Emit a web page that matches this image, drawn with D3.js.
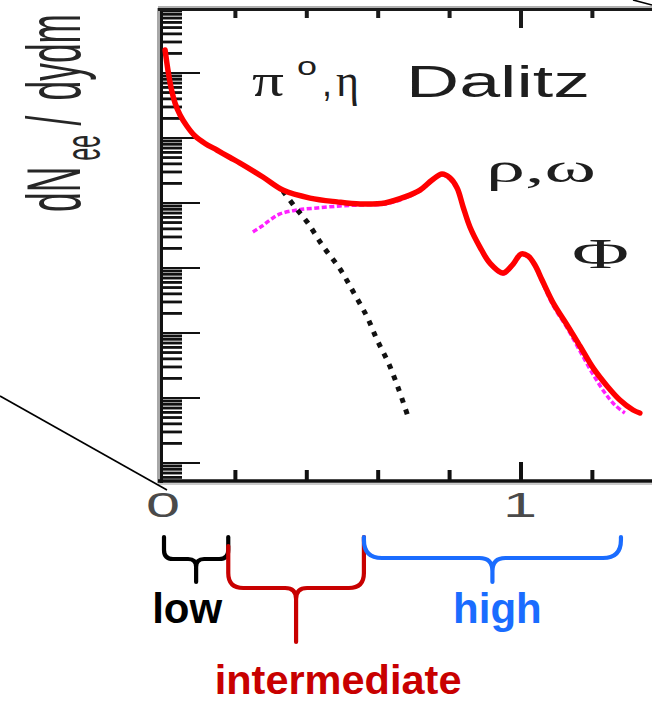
<!DOCTYPE html>
<html>
<head>
<meta charset="utf-8">
<script src="https://cdn.jsdelivr.net/npm/d3@7"></script>
<style>
  html, body { margin: 0; padding: 0; background: #fff; }
  svg { display: block; }
</style>
</head>
<body>
<svg id="chart" width="652" height="702"></svg>
<script>
// Dielectron invariant-mass spectrum, dN_ee/dydm versus m_ee (GeV/c^2)

// full spectrum (red)
const massTotal = [0.003, 0.011, 0.020, 0.031, 0.045, 0.064, 0.087, 0.115, 0.148, 0.185,
  0.213, 0.277, 0.333, 0.409, 0.485, 0.549, 0.619, 0.675, 0.717, 0.751,
  0.779, 0.801, 0.821, 0.838, 0.857, 0.885, 0.913, 0.950, 0.978, 1.000,
  1.020, 1.039, 1.059, 1.090, 1.129, 1.165, 1.202, 1.241, 1.277, 1.314, 1.333];
const yieldTotal = [0.226, 0.111, 0.0587, 0.0345, 0.0226, 0.0153, 0.0107, 0.00823, 0.00653, 0.00501,
  0.00412, 0.00251, 0.00158, 0.00119, 0.00104, 0.000966, 0.00100, 0.00124, 0.00158, 0.00226,
  0.00279, 0.00243, 0.00170, 0.000867, 0.000428, 0.000210, 0.000119, 8.38e-5, 1.15e-4, 1.64e-4,
  1.53e-4, 1.11e-4, 6.53e-5, 2.90e-5, 1.33e-5, 6.31e-6, 2.90e-6, 1.53e-6, 9.31e-7, 6.53e-7, 5.87e-7];

// vector-meson contribution (magenta)
const massVector = [0.249, 0.275, 0.297, 0.325, 0.373, 0.429, 0.493, 0.549, 0.619, 0.675,
  0.717, 0.751, 0.779, 0.801, 0.821, 0.838, 0.857, 0.885, 0.913, 0.950,
  0.978, 1.000, 1.020, 1.039, 1.059, 1.090, 1.129, 1.165, 1.202, 1.235, 1.263, 1.291];
const yieldVector = [3.58e-4, 4.43e-4, 5.47e-4, 6.78e-4, 7.80e-4, 8.38e-4, 9.0e-4, 9.31e-4, 9.66e-4, 1.19e-3,
  1.53e-3, 2.18e-3, 2.70e-3, 2.34e-3, 1.64e-3, 8.38e-4, 4.12e-4, 2.03e-4, 1.15e-4, 8.09e-5,
  1.11e-4, 1.58e-4, 1.48e-4, 1.07e-4, 6.09e-5, 2.65e-5, 1.20e-5, 5.30e-6, 2.30e-6, 1.20e-6, 7.80e-7, 5.87e-7];

// pi0 / eta Dalitz tail (black dots)
const massDalitz = [0.333, 0.367, 0.401, 0.445, 0.493, 0.532, 0.569, 0.597, 0.630, 0.658, 0.683];
const yieldDalitz = [1.53e-3, 8.67e-4, 5.10e-4, 2.18e-4, 9.66e-5, 4.12e-5, 1.76e-5, 7.80e-6, 3.33e-6, 1.33e-6, 5.28e-7];

// axis ticks
const xTickValues = [0, 0.2, 0.4, 0.6, 0.8, 1.0, 1.2];
const xTickLabels = ["0", "", "", "", "", "1", ""];
const yDecades = [-8, -7, -6, -5, -4, -3, -2, -1, 0];

// mass regions
const regionNames = ["low", "intermediate", "high"];
const regionStart = [0.0, 0.18, 0.56];
const regionEnd = [0.18, 0.56, 1.28];
const regionColors = ["#000000", "#c80000", "#1a6cff"];

const svg = d3.select("#chart");

const x = d3.scaleLinear().domain([0, 1.367]).range([164, 652]);
const y = d3.scaleLog().domain([Math.pow(10, -7.262), 1]).range([480, 8]);

// ---- frame ----
const frame = svg.append("g");

// log-scale ticks on the left axis: 1..9 x 10^k
const yTicks = [];
yDecades.forEach(k => {
  for (let m = 1; m <= 9; m++) {
    const v = m * Math.pow(10, k);
    if (v >= y.domain()[0] && v <= 1.0000001) yTicks.push({ v, major: m === 1 });
  }
});
frame.selectAll(".ytick").data(yTicks).enter().append("line")
  .attr("x1", 162)
  .attr("x2", d => d.major ? 200 : 182)
  .attr("y1", d => y(d.v)).attr("y2", d => y(d.v))
  .attr("stroke", "#111")
  .attr("stroke-width", d => d.major ? 2 : 2.8);

frame.append("line").attr("x1", 158.5).attr("x2", 158.5).attr("y1", 8).attr("y2", 483)
  .attr("stroke", "#a8a8a8").attr("stroke-width", 3);
frame.append("line").attr("x1", 161.5).attr("x2", 161.5).attr("y1", 8).attr("y2", 483)
  .attr("stroke", "#111").attr("stroke-width", 3);
frame.append("line").attr("x1", 158).attr("x2", 652).attr("y1", 7).attr("y2", 7)
  .attr("stroke", "#b0b0b0").attr("stroke-width", 2);
frame.append("line").attr("x1", 158).attr("x2", 652).attr("y1", 9.5).attr("y2", 9.5)
  .attr("stroke", "#1a1a1a").attr("stroke-width", 3);
frame.append("line").attr("x1", 158).attr("x2", 652).attr("y1", 481).attr("y2", 481)
  .attr("stroke", "#111").attr("stroke-width", 3.5);
frame.append("line").attr("x1", 158).attr("x2", 652).attr("y1", 484).attr("y2", 484)
  .attr("stroke", "#b8b8b8").attr("stroke-width", 1.5);

// x ticks, bottom (pointing up) and top (pointing down)
frame.selectAll(".xtickb").data(xTickValues.filter(v => v > 0)).enter().append("line")
  .attr("x1", d => x(d)).attr("x2", d => x(d))
  .attr("y1", 480).attr("y2", d => d === 1 ? 462 : 470)
  .attr("stroke", "#111").attr("stroke-width", 4);
frame.selectAll(".xtickt").data(xTickValues.filter(v => v > 0)).enter().append("line")
  .attr("x1", d => x(d)).attr("x2", d => x(d))
  .attr("y1", 10).attr("y2", d => d === 1 ? 28 : 18)
  .attr("stroke", "#1a1a1a").attr("stroke-width", 4);

// x tick labels (wide face)
xTickValues.forEach((v, i) => {
  if (!xTickLabels[i]) return;
  svg.append("g").attr("transform", `translate(${x(v) - 1},517) scale(1.7,1)`)
    .append("text").attr("text-anchor", "middle")
    .attr("font-family", "Liberation Sans, Arial, sans-serif").attr("font-size", 36)
    .attr("fill", "#4a4a4a").text(xTickLabels[i]);
});

// ---- curves ----
const line = (mx, vy) => d3.line()
  .x((d, i) => x(mx[i])).y((d, i) => y(vy[i]))
  .curve(d3.curveCatmullRom.alpha(0.5))(mx);

svg.append("path").attr("d", line(massVector, yieldVector))
  .attr("fill", "none").attr("stroke", "#ff20ff").attr("stroke-width", 3.5)
  .attr("stroke-dasharray", "5,2.5");

svg.append("path").attr("d", line(massDalitz, yieldDalitz))
  .attr("fill", "none").attr("stroke", "#111").attr("stroke-width", 5)
  .attr("stroke-dasharray", "5,7");

svg.append("path").attr("d", line(massTotal, yieldTotal))
  .attr("fill", "none").attr("stroke", "#ff0000").attr("stroke-width", 5.5)
  .attr("stroke-linejoin", "round").attr("stroke-linecap", "round");

// ---- in-plot annotations ----
const serif = "Liberation Serif, Times New Roman, serif";
const sans = "Liberation Sans, Arial, sans-serif";
const ann = svg.append("g").attr("fill", "#1e1e1e");
ann.append("text").attr("x", 252).attr("y", 96).attr("font-family", serif).attr("font-size", 46)
  .attr("textLength", 32).attr("lengthAdjust", "spacingAndGlyphs").text("π");
ann.append("text").attr("x", 297).attr("y", 75).attr("font-family", sans).attr("font-size", 25)
  .attr("textLength", 20).attr("lengthAdjust", "spacingAndGlyphs").text("o");
ann.append("text").attr("x", 322).attr("y", 96).attr("font-family", sans).attr("font-size", 40)
  .attr("textLength", 10).attr("lengthAdjust", "spacingAndGlyphs").text(",");
ann.append("text").attr("x", 336).attr("y", 96).attr("font-family", serif).attr("font-size", 46)
  .attr("textLength", 23).attr("lengthAdjust", "spacingAndGlyphs").text("η");
ann.append("text").attr("x", 406).attr("y", 97).attr("font-family", sans).attr("font-size", 44)
  .attr("textLength", 184).attr("lengthAdjust", "spacingAndGlyphs").text("Dalitz");
ann.append("text").attr("x", 486).attr("y", 182).attr("font-family", serif).attr("font-size", 40)
  .attr("textLength", 110).attr("lengthAdjust", "spacingAndGlyphs").text("ρ,ω");
ann.append("text").attr("x", 572).attr("y", 268).attr("font-family", serif).attr("font-size", 42)
  .attr("textLength", 57).attr("lengthAdjust", "spacingAndGlyphs").text("Φ");

// y-axis title, rotated and condensed along the reading direction
const yl = svg.append("g").attr("transform", "translate(80,212) rotate(-90) scale(0.465,1)")
  .attr("fill", "#262626").attr("font-family", sans);
yl.append("text").attr("x", 0).attr("y", 0).attr("font-size", 76).text("dN");
yl.append("text").attr("x", 110).attr("y", 20).attr("font-size", 50).text("ee");
yl.append("text").attr("x", 186).attr("y", 0).attr("font-size", 76).text("/");
yl.append("text").attr("x", 240).attr("y", 0).attr("font-size", 76).text("dydm");

// zoom guide lines
svg.append("line").attr("x1", 0).attr("y1", 396).attr("x2", 167).attr("y2", 490)
  .attr("stroke", "#000").attr("stroke-width", 1.6);
svg.append("line").attr("x1", 633).attr("y1", 0).attr("x2", 652).attr("y2", 5)
  .attr("stroke", "#000").attr("stroke-width", 1.6);

// ---- mass-region braces ----
const braceGeom = [
  { top0: 537, top1: 537, arm: 559, tip: 582, rEnd: 9, rMid: 8, dx: -9, base: 623, size: 42 },
  { top0: 546, top1: 537, arm: 588, tip: 642, rEnd: 15, rMid: 11, dx: 42, base: 694, size: 41.5 },
  { top0: 537, top1: 537, arm: 558, tip: 582, rEnd: 18, rMid: 13, dx: 5, base: 623, size: 42 }
];
function bracePath(x0, x1, g) {
  const xm = (x0 + x1) / 2;
  return `M${x0},${g.top0} L${x0},${g.arm - g.rEnd} Q${x0},${g.arm} ${x0 + g.rEnd},${g.arm} ` +
    `L${xm - g.rMid},${g.arm} Q${xm},${g.arm} ${xm},${g.arm + g.rMid} L${xm},${g.tip} ` +
    `M${xm},${g.arm + g.rMid} Q${xm},${g.arm} ${xm + g.rMid},${g.arm} ` +
    `L${x1 - g.rEnd},${g.arm} Q${x1},${g.arm} ${x1},${g.arm - g.rEnd} L${x1},${g.top1}`;
}
regionNames.forEach((name, i) => {
  const x0 = x(regionStart[i]), x1 = x(regionEnd[i]);
  const g = braceGeom[i];
  svg.append("path").attr("d", bracePath(x0, x1, g))
    .attr("fill", "none").attr("stroke", regionColors[i]).attr("stroke-width", 4.2)
    .attr("stroke-linecap", "round").attr("stroke-linejoin", "round");
  svg.append("text").attr("x", (x0 + x1) / 2 + g.dx).attr("y", g.base)
    .attr("text-anchor", "middle").attr("font-family", sans).attr("font-weight", "bold")
    .attr("font-size", g.size).attr("fill", regionColors[i]).text(name);
});
</script>
</body>
</html>
